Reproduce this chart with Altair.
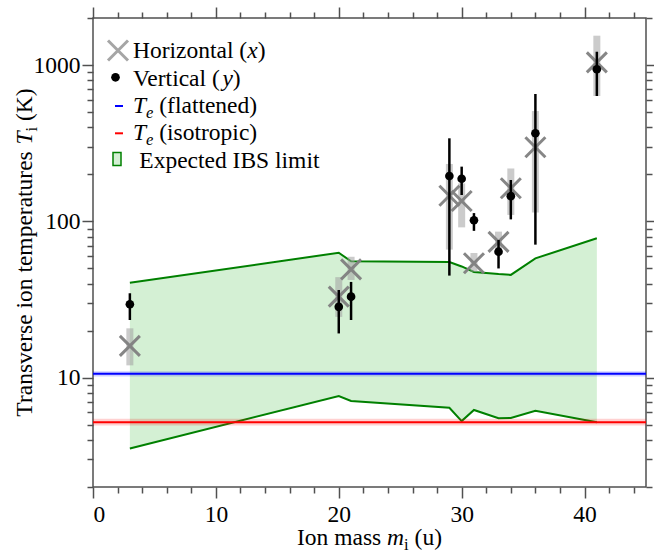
import altair as alt
import pandas as pd

# Ion species masses (u)
mass = [3, 20, 21, 29, 30, 31, 33, 34, 36, 41]

# Horizontal (x) transverse temperatures and their ranges (K)
horiz_T = [16.0, 33.0, 49.3, 146, 135, 54.0, 74.0, 163, 298, 1040]
horiz_lo = [12.0, 24.5, 42.2, 66.0, 91.6, 47.6, 63.0, 110, 114, 634]
horiz_hi = [20.7, 44.0, 59.4, 233, 175, 62.8, 86.0, 218, 508, 1541]

# Vertical (y) transverse temperatures and their ranges (K)
vert_T = [29.5, 28.4, 33.0, 195, 187.5, 101.7, 64.0, 145, 366, 940]
vert_lo = [23.4, 19.2, 23.4, 45.0, 147.5, 87.0, 50.0, 103, 71.0, 634]
vert_hi = [34.7, 36.4, 41.0, 340, 224, 113, 76.0, 184, 653, 1217]

# Expected IBS limit band (K)
ibs_upper = [40.5, 63.0, 55.5, 55.0, 51.5, 47.5, 46.0, 45.5, 58.0, 78.0]
ibs_lower = [3.53, 7.64, 7.10, 6.43, 5.28, 6.22, 5.50, 5.53, 6.15, 5.19]

# Electron temperature estimates (K): value, low, high
te_flat = [10.6, 10.2, 11.0]
te_iso = [5.2, 4.95, 5.47]

x_ticks = [0, 10, 20, 30, 40]
x_minor = [v for v in range(2, 45, 2) if v % 10]
y_ticks = [10, 100, 1000]
y_minor = [m * d for d in (1, 10, 100) for m in range(2, 10)] + [2000]

W, H = 553, 469
LEFT, TOP, RIGHT, BOTTOM = 93, 18, 8, 67
FONT = "Liberation Serif"
FS = 23.5
SUB_FS = 16.5
SUB_DROP = 5
FRAME = "#505050"

xs = alt.Scale(domain=[0, 45], nice=False, zero=False)
ys = alt.Scale(type="log", domain=[2, 2000], nice=False)

df = pd.DataFrame(dict(mass=mass, hT=horiz_T, hlo=horiz_lo, hhi=horiz_hi,
                       vT=vert_T, vlo=vert_lo, vhi=vert_hi,
                       up=ibs_upper, lo=ibs_lower))

AX = dict(domain=False, grid=False, tickColor=FRAME, tickWidth=1.5,
          labelFont=FONT, labelFontSize=FS, labelColor="black", title=None)


def xaxis(orient, values, size, labels):
    return alt.Axis(orient=orient, values=values, tickSize=size,
                    labels=labels, labelPadding=4, format="d", **AX)


def yaxis(orient, values, size, labels):
    return alt.Axis(orient=orient, values=values, tickSize=size,
                    labels=labels, labelPadding=2, format="d", **AX)


X = lambda f, axis=None: alt.X(f, type="quantitative", scale=xs, axis=axis)
Y = lambda f, axis=None: alt.Y(f, type="quantitative", scale=ys, axis=axis)

base = alt.Chart(df)

# IBS band with its bounding lines (carries the main axes)
area = base.mark_area(color="#d4f0d4").encode(
    x=X("mass", xaxis("bottom", x_ticks, 11, True)),
    y=Y("lo", yaxis("left", y_ticks, 11, True)),
    y2="up:Q")
upper = base.mark_line(color="green", strokeWidth=2).encode(x=X("mass"), y=Y("up"))
lower = base.mark_line(color="green", strokeWidth=2).encode(x=X("mass"), y=Y("lo"))

# minor and mirrored ticks
minor = base.mark_point(opacity=0).encode(
    x=X("mass", xaxis("bottom", x_minor, 6, False)),
    y=Y("vT", yaxis("left", y_minor, 6, False)))
top_major = base.mark_point(opacity=0).encode(
    x=X("mass", xaxis("top", x_ticks, 11, False)),
    y=Y("vT", yaxis("right", y_ticks, 11, False)))
top_minor = base.mark_point(opacity=0).encode(
    x=X("mass", xaxis("top", x_minor, 6, False)),
    y=Y("vT", yaxis("right", y_minor, 6, False)))


def te_layers(vals, color, band):
    d = pd.DataFrame({"mass": [0, 45], "v": vals[0], "l": vals[1], "h": vals[2]})
    c = alt.Chart(d)
    return [
        c.mark_area(color=band, opacity=0.18).encode(x=X("mass"), y=Y("l"), y2="h:Q"),
        c.mark_line(color=color, strokeWidth=2).encode(x=X("mass"), y=Y("v")),
    ]


XPATH = "M-1,-1L1,1M-1,1L1,-1"

gray_bars = base.mark_rule(color="#a0a0a0", opacity=0.55, strokeWidth=7).encode(
    x=X("mass"), y=Y("hlo"), y2="hhi:Q")
crosses = base.mark_point(shape=XPATH, size=400, filled=False, stroke="gray",
                          strokeWidth=3, opacity=0.95).encode(x=X("mass"), y=Y("hT"))
black_bars = base.mark_rule(color="black", strokeWidth=2.5).encode(
    x=X("mass"), y=Y("vlo"), y2="vhi:Q")
dots = base.mark_circle(color="black", size=75, opacity=1).encode(x=X("mass"), y=Y("vT"))

# ---- styled text runs ----
REG = {' ': 250, '(': 333, ')': 333, 'a': 444, 'b': 500, 'c': 444, 'd': 500,
       'e': 444, 'f': 333, 'g': 500, 'h': 500, 'i': 278, 'j': 278, 'k': 500,
       'l': 278, 'm': 778, 'n': 500, 'o': 500, 'p': 500, 'q': 500, 'r': 333,
       's': 389, 't': 278, 'u': 500, 'v': 500, 'w': 722, 'x': 500, 'y': 500,
       'z': 444, 'B': 667, 'E': 611, 'H': 722, 'I': 333, 'K': 722, 'S': 556,
       'T': 611, 'V': 722}
ITA = {'T': 556, 'x': 444, 'y': 444, 'm': 722, 'e': 444, 'i': 278}


def width(txt, italic, size):
    table = ITA if italic else REG
    return sum(table.get(ch, REG.get(ch, 500)) for ch in txt) * size / 1000


def text_run(segments, x0, y0, angle=0, centered=False):
    sizes = [SUB_FS if sub else FS for _, _, sub in segments]
    widths = [width(t, it, s) for (t, it, _), s in zip(segments, sizes)]
    pos = -sum(widths) / 2 if centered else 0.0
    out = []
    for (txt, italic, sub), size, w in zip(segments, sizes, widths):
        shown = txt.strip()
        lead = width(txt[: len(txt) - len(txt.lstrip())], False, size)
        off = pos + lead
        drop = SUB_DROP if sub else 0
        if angle == 0:
            px, py = x0 + off, y0 + drop
        else:
            px, py = x0 + drop, y0 - off
        style = {"fontStyle": "italic"} if italic else {}
        out.append(
            alt.Chart(pd.DataFrame({"t": [shown]})).mark_text(
                font=FONT, fontSize=size, align="left", baseline="alphabetic",
                angle=angle, color="black", **style,
            ).encode(x=alt.value(px - LEFT), y=alt.value(py - TOP), text="t:N"))
        pos += w
    return out


texts = []
texts += text_run([("Horizontal (", False, False), ("x", True, False), (")", False, False)], 133, 58.3)
texts += text_run([("Vertical (", False, False), ("y", True, False), (")", False, False)], 133, 85.7)
texts += text_run([("T", True, False), ("e", True, True), (" (flattened)", False, False)], 133, 113.3)
texts += text_run([("T", True, False), ("e", True, True), (" (isotropic)", False, False)], 133, 140.0)
texts += text_run([("Expected IBS limit", False, False)], 139.3, 167.5)
texts += text_run([("Ion mass ", False, False), ("m", True, False), ("i", False, True),
                   (" (u)", False, False)], 369.5, 545, centered=True)
texts += text_run([("Transverse ion temperatures ", False, False), ("T", True, False),
                   ("i", False, True), (" (K)", False, False)], 32, 252.5, angle=270, centered=True)

one = pd.DataFrame({"k": [0]})
leg = alt.Chart(one)
legend = [
    leg.mark_point(shape=XPATH, size=400, filled=False, stroke="gray", strokeWidth=3).encode(
        x=alt.value(118 - LEFT), y=alt.value(50.5 - TOP)),
    leg.mark_circle(color="black", size=75, opacity=1).encode(
        x=alt.value(115.5 - LEFT), y=alt.value(77.3 - TOP)),
    leg.mark_rule(color="#0000ff", strokeWidth=2).encode(
        x=alt.value(115 - LEFT), x2=alt.value(123 - LEFT), y=alt.value(106 - TOP)),
    leg.mark_rule(color="#ff0000", strokeWidth=2).encode(
        x=alt.value(115 - LEFT), x2=alt.value(123 - LEFT), y=alt.value(133.3 - TOP)),
    leg.mark_rect(fill="#d4f0d4", stroke="green", strokeWidth=1.5).encode(
        x=alt.value(113 - LEFT), x2=alt.value(121 - LEFT),
        y=alt.value(152.5 - TOP), y2=alt.value(165.5 - TOP)),
]

layers = ([area, upper, lower]
          + te_layers(te_flat, "#0000ff", "#0000ff")
          + te_layers(te_iso, "#ff0000", "#ff0000")
          + [gray_bars, crosses, black_bars, dots, minor, top_major, top_minor]
          + legend + texts)

chart = alt.layer(*layers).resolve_axis(
    x="independent", y="independent"
).properties(
    width=W, height=H,
    autosize=alt.AutoSizeParams(type="none"),
    padding={"left": LEFT, "top": TOP, "right": RIGHT, "bottom": BOTTOM},
    background="white",
).configure_view(stroke=FRAME, strokeWidth=1.5)

chart.save("out.html", embed_options={"renderer": "svg", "actions": False})
